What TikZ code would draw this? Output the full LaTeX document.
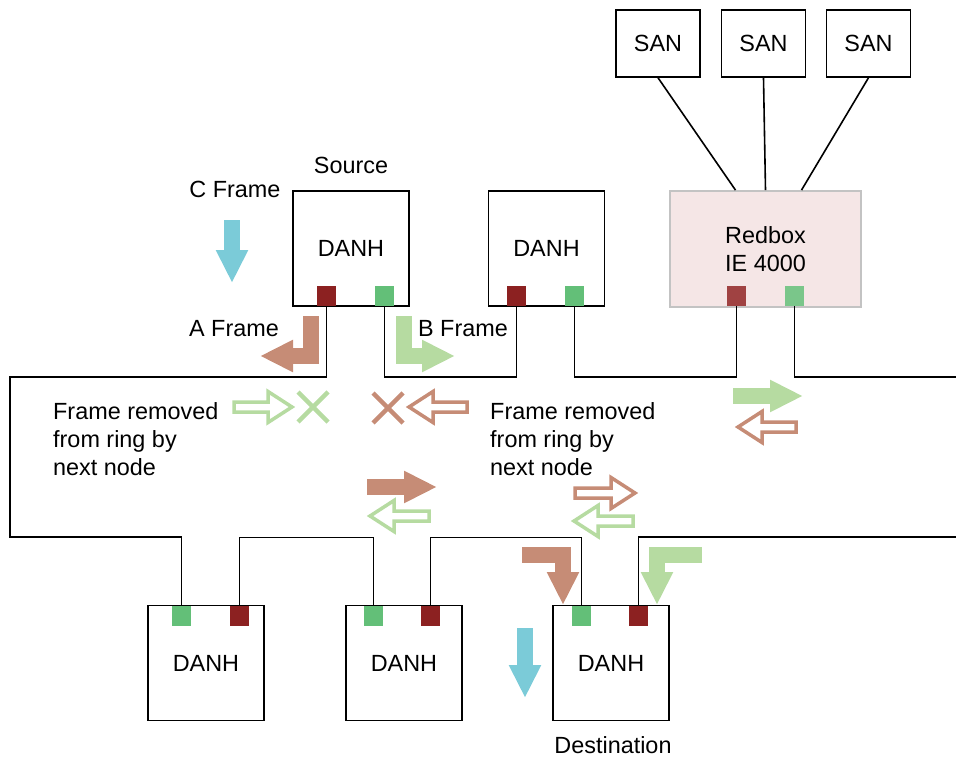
\documentclass[tikz,border=0pt]{standalone}
\usepackage{fontspec}
\setmainfont{Liberation Sans}
\usetikzlibrary{arrows.meta}

\definecolor{brownA}{RGB}{198,140,118}
\definecolor{greenA}{RGB}{182,219,161}
\definecolor{cyanA}{RGB}{123,203,216}
\definecolor{portRed}{RGB}{140,33,33}
\definecolor{portGreen}{RGB}{99,191,120}
\definecolor{rbRed}{RGB}{160,66,66}
\definecolor{rbGreen}{RGB}{122,198,138}
\definecolor{rbFill}{RGB}{245,230,230}
\definecolor{rbLine}{RGB}{195,195,195}

\begin{document}
\begin{tikzpicture}[x=1pt, y=-1pt,
    font=\fontsize{23.4}{28}\selectfont,
    danh/.style={draw, line width=1.5pt, minimum width=116pt, minimum height=115pt, inner sep=0pt},
    san/.style={draw, line width=1.5pt, minimum width=84pt, minimum height=67pt, inner sep=0pt},
    port/.style={minimum width=19pt, minimum height=20pt, inner sep=0pt, outer sep=0pt},
    ring/.style={line width=1.6pt},
    fat/.style={line width=16pt, line join=miter, -{Triangle[length=33pt, width=30pt]}},
    hollow/.style={line width=3.5pt, line join=miter, draw=#1, fill=white},
    xmark/.style={line width=4.5pt}]
            \useasboundingbox (0,0) rectangle (956,757);

            % SAN boxes and redbox
            \node[san] (san1) at (658,43.5){SAN};
            \node[san] (san2) at (763.5,43.5){SAN};
            \node[san] (san3) at (868.5,43.5){SAN};
            \node[draw=rbLine, fill=rbFill, line width=1.8pt, minimum width=191pt, minimum height=116pt,
                  align=center] (redbox) at (765.5,249){Redbox\\IE 4000};

            \draw[ring] (san1.south) -- ([xshift=-30pt]redbox.north);
            \draw[ring] (san2.south) -- (redbox.north);
            \draw[ring] (san3.south) -- ([xshift=36pt]redbox.north);

            % DANH boxes
            \node[danh] (src) at (351,248.5){DANH};
            \node[danh] (d2) at (546.5,248.5){DANH};
            \node[danh] (d3) at (206,663){DANH};
            \node[danh] (d4) at (404,663){DANH};
            \node[danh] (d5) at (611,663){DANH};

            \node[port, fill=portRed, anchor=south] (srcR) at (326.5,306){};
            \node[port, fill=portGreen, anchor=south] (srcG) at (384.5,306){};
            \node[port, fill=portRed, anchor=south] (d2R) at (516.5,306){};
            \node[port, fill=portGreen, anchor=south] (d2G) at (574.5,306){};
            \node[port, fill=rbRed, anchor=south] (rbR) at (736.5,306){};
            \node[port, fill=rbGreen, anchor=south] (rbG) at (794.5,306){};
            \node[port, fill=portGreen, anchor=north] (d3G) at (181.5,605.5){};
            \node[port, fill=portRed, anchor=north] (d3R) at (239.5,605.5){};
            \node[port, fill=portGreen, anchor=north] (d4G) at (373.5,605.5){};
            \node[port, fill=portRed, anchor=north] (d4R) at (430.5,605.5){};
            \node[port, fill=portGreen, anchor=north] (d5G) at (581.5,605.5){};
            \node[port, fill=portRed, anchor=north] (d5R) at (638.5,605.5){};

            % ring
            \coordinate (ringNW) at (10,377);
            \coordinate (ringSW) at (10,537);
            \coordinate (ringNE) at (956,377);
            \coordinate (ringSE) at (956,537);

            \draw[ring] (srcR.south) |- (ringNW) -- (ringSW) -| (d3G.north);
            \draw[ring] (srcG.south) -- ++(0,71) -| (d2R.south);
            \draw[ring] (d2G.south) -- ++(0,71) -| (rbR.south);
            \draw[ring] (rbG.south) |- (ringNE);
            \draw[ring] (ringSE) -| (d5R.north);
            \draw[ring] (d5G.north) -- ++(0,-68) -| (d4R.north);
            \draw[ring] (d4G.north) -- ++(0,-68) -| (d3R.north);

            % labels
            \node (srcLbl) at (351,165){Source};
            \node[inner sep=0pt] (dstLbl) at (613,745){Destination};
            \node (cLbl) at (235,189){C Frame};
            \node (aLbl) at (234,329){A Frame};
            \node (bLbl) at (463,329){B Frame};
            \node[align=left, anchor=west, inner sep=0pt] (rmL) at (53,439){Frame removed\\from ring by\\next node};
            \node[align=left, anchor=west, inner sep=0pt] (rmR) at (490,439){Frame removed\\from ring by\\next node};

            % frame arrows
            \draw[fat, cyanA] (232,220) -- (232,283);
            \draw[fat, cyanA] (525,628) -- (525,698);
            \draw[fat, brownA] (311,316) |- (260,356);
            \draw[fat, greenA] (404,316) |- (455,356);
            \draw[fat, brownA] (522,555) -| (563,605);
            \draw[fat, greenA] (702,555) -| (657,605);
            \draw[fat, brownA] (367,487) -- (437,487);
            \draw[fat, greenA] (733,396) -- (803,396);

            \draw[hollow=greenA] (292,407) -- ++(-24,-15.5) -- ++(0,10.5) -- ++(-34,0) -- ++(0,10) -- ++(34,0) -- ++(0,10.5) -- cycle;
            \draw[hollow=brownA] (409,407) -- ++(24,-15.5) -- ++(0,10.5) -- ++(34,0) -- ++(0,10) -- ++(-34,0) -- ++(0,10.5) -- cycle;
            \draw[hollow=brownA] (738,427) -- ++(24,-15.5) -- ++(0,10.5) -- ++(34,0) -- ++(0,10) -- ++(-34,0) -- ++(0,10.5) -- cycle;
            \draw[hollow=greenA] (370,516) -- ++(24,-15.5) -- ++(0,10.5) -- ++(35,0) -- ++(0,10) -- ++(-35,0) -- ++(0,10.5) -- cycle;
            \draw[hollow=brownA] (635,493) -- ++(-24,-15.5) -- ++(0,10.5) -- ++(-36,0) -- ++(0,10) -- ++(36,0) -- ++(0,10.5) -- cycle;
            \draw[hollow=greenA] (574,521) -- ++(24,-15.5) -- ++(0,10.5) -- ++(35,0) -- ++(0,10) -- ++(-35,0) -- ++(0,10.5) -- cycle;

            \draw[xmark, greenA] (298,392) -- (328,422) (298,422) -- (328,392);
            \draw[xmark, brownA] (373,393) -- (403,423) (373,423) -- (403,393);
        \end{tikzpicture}
\end{document}
